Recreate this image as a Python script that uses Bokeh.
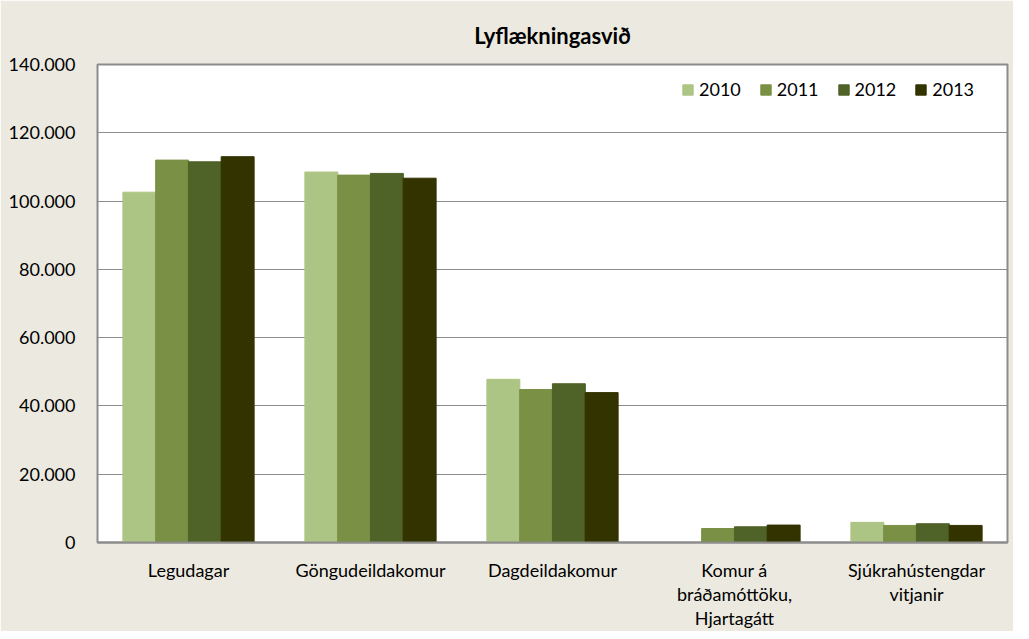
from bokeh.plotting import figure
from bokeh.models import FactorRange, FixedTicker, Legend, LegendItem, ColumnDataSource
from bokeh.transform import dodge
from bokeh.embed import file_html
from bokeh.resources import INLINE

title_text = "Lyflækningasvið"
categories = ["Legudagar", "Göngudeildakomur", "Dagdeildakomur",
              "Komur á\nbráðamóttöku,\nHjartagátt", "Sjúkrahústengdar\nvitjanir"]
years = ["2010", "2011", "2012", "2013"]
v2010 = [102600, 108500, 47800, 0, 5900]
v2011 = [112000, 107600, 44800, 4100, 5000]
v2012 = [111500, 108100, 46500, 4600, 5500]
v2013 = [113000, 106700, 43900, 5100, 5000]
y_ticks = [0, 20000, 40000, 60000, 80000, 100000, 120000, 140000]
y_tick_labels = ["0", "20.000", "40.000", "60.000", "80.000", "100.000", "120.000", "140.000"]
colors = ["#ADC584", "#7A9145", "#4F6228", "#333300"]

FONT = "Lato"
BG = "#ECEAE0"
GRAY = "#8C8C8C"

source = ColumnDataSource(dict(cat=categories, y2010=v2010, y2011=v2011, y2012=v2012, y2013=v2013))

p = figure(x_range=FactorRange(*categories, range_padding=0), y_range=(0, y_ticks[-1]),
           width=1013, height=631, output_backend="svg", toolbar_location=None,
           min_border_left=97, min_border_right=6, min_border_top=64, min_border_bottom=89)

p.background_fill_color = "white"
p.border_fill_color = BG
p.outline_line_color = GRAY
p.outline_line_width = 2

p.title.text = title_text
p.title.align = "center"
p.title.text_font = FONT
p.title.text_font_size = "22px"
p.title.text_font_style = "bold"
p.title.text_color = "#000000"
p.title.standoff = 32

offsets = [-0.27, -0.09, 0.09, 0.27]
fields = ["y2010", "y2011", "y2012", "y2013"]
items = []
for yr, f, off, c in zip(years, fields, offsets, colors):
    r = p.vbar(x=dodge("cat", off, range=p.x_range), top=f, width=0.181, source=source,
               fill_color=c, line_color=c)
    items.append(LegendItem(label=yr, renderers=[r]))

legend = Legend(items=items, orientation="horizontal", location=(584, 442),
                glyph_width=13, glyph_height=13, label_height=20, label_standoff=5,
                spacing=18, padding=0, margin=0, border_line_color=None,
                background_fill_alpha=0, label_text_font=FONT, label_text_font_size="18px",
                label_text_color="#000000")
p.add_layout(legend)

p.yaxis.ticker = FixedTicker(ticks=y_ticks)
p.yaxis.major_label_overrides = {t: l for t, l in zip(y_ticks, y_tick_labels)}
p.yaxis.axis_line_color = None
p.yaxis.major_tick_line_color = None
p.yaxis.minor_tick_line_color = None
p.yaxis.major_label_standoff = 16
p.yaxis.major_label_text_font = FONT
p.yaxis.major_label_text_font_size = "18px"
p.yaxis.major_label_text_color = "#000000"

p.xaxis.axis_line_color = GRAY
p.xaxis.axis_line_width = 2
p.xaxis.major_tick_line_color = None
p.xaxis.minor_tick_line_color = None
p.xaxis.major_label_standoff = 10
p.xaxis.major_label_text_font = FONT
p.xaxis.major_label_text_font_size = "18px"
p.xaxis.major_label_text_line_height = 1.1
p.xaxis.major_label_text_color = "#000000"

p.xgrid.grid_line_color = None
p.ygrid.grid_line_color = GRAY
p.ygrid.grid_line_width = 1

open("out.html", "w").write(file_html(p, INLINE))
